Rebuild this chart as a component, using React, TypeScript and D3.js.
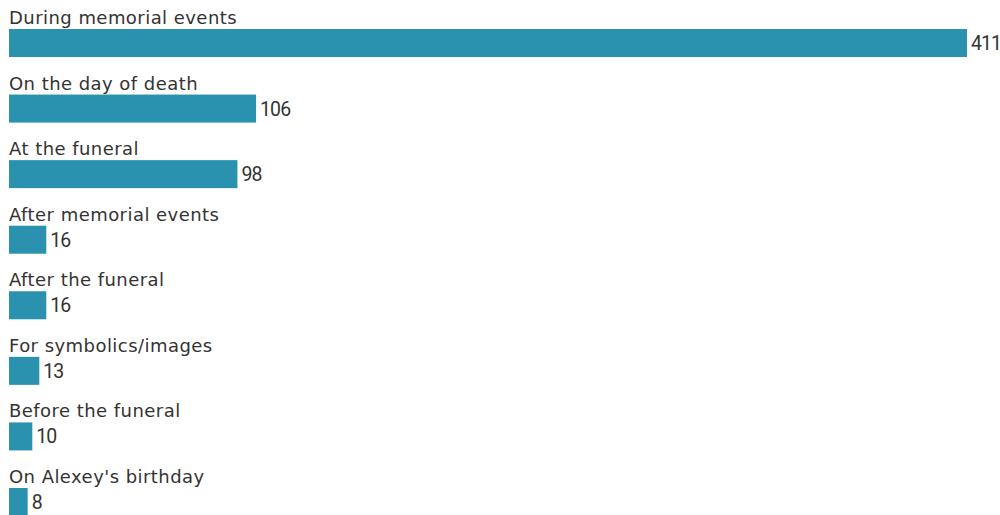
import React from 'react';
import * as d3 from 'd3';

const categories = [
  'During memorial events',
  'On the day of death',
  'At the funeral',
  'After memorial events',
  'After the funeral',
  'For symbolics/images',
  'Before the funeral',
  "On Alexey's birthday",
];
const values = [411, 106, 98, 16, 16, 13, 10, 8];

const width = 1000;
const height = 515;
const step = 65.57;
const barTop = 29;
const barH = 28;

const App: React.FC = () => {
  const x = d3.scaleLinear().domain([0, 411]).range([9, 967]);
  const y = d3.scaleBand<string>()
    .domain(categories)
    .range([0, step * categories.length])
    .padding(0);

  return (
    <svg
      width={width}
      height={height}
      style={{ position: 'absolute', left: 0, top: 0, background: '#fff' }}
      fontFamily="'DejaVu Sans', sans-serif"
    >
      {categories.map((c, i) => {
        const y0 = y(c) ?? 0;
        return (
          <g key={c}>
            <text x={9} y={y0 + 24} fontSize={18} letterSpacing={0.45} fill="#333">{c}</text>
            <rect x={x(0)} y={y0 + barTop} width={x(values[i]) - x(0)} height={barH} fill="#2a91af" />
            <text
              x={x(values[i]) + 4}
              y={y0 + barTop + barH / 2}
              dy="0.36em"
              fontSize={19.5}
              letterSpacing={-0.9}
              fontFamily="Roboto, sans-serif"
              fill="#333"
            >
              {values[i]}
            </text>
          </g>
        );
      })}
    </svg>
  );
};

export default App;
